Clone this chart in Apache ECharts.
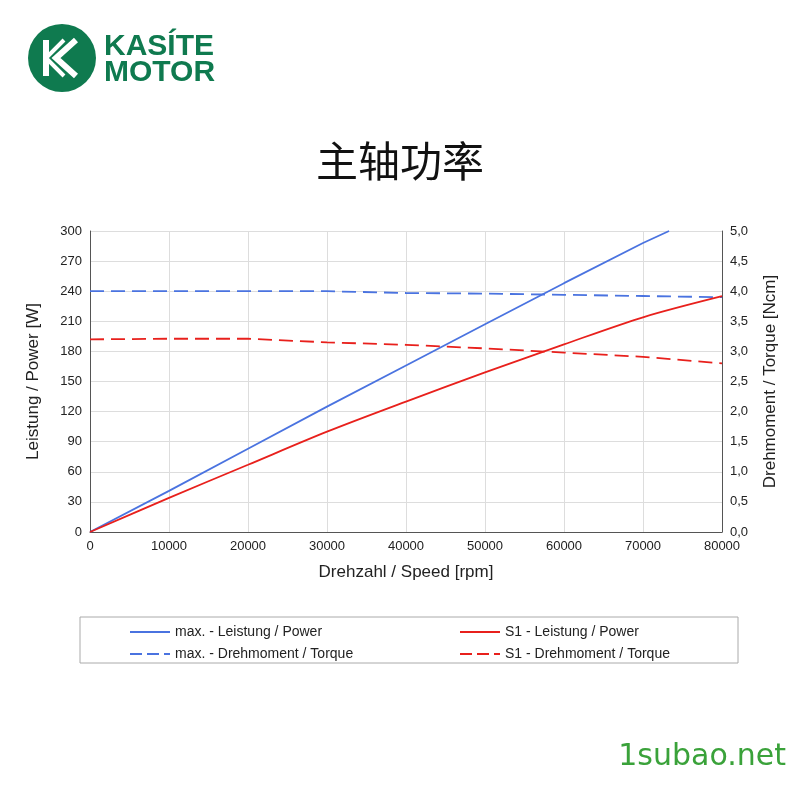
<!DOCTYPE html>
<html><head><meta charset="utf-8">
<script src="https://cdn.jsdelivr.net/npm/echarts@6/dist/echarts.min.js"></script>
<style>html,body{margin:0;background:#fff}#c{width:800px;height:800px}</style>
</head><body><div id="c"></div>
<script>
const speed = [0,10000,20000,30000,40000,50000,60000,70000,80000];
const maxPower = [[0,0],[10000,41],[20000,83],[30000,125],[40000,166],[50000,207],[60000,248],[70000,288],[73300,300]];
const s1Power = [[0,0],[10000,34],[20000,67],[30000,100],[40000,130],[50000,159],[60000,187],[70000,214],[80000,235]];
const maxTorque = [4.0,4.0,4.0,4.0,3.97,3.96,3.94,3.92,3.9];
const s1Torque = [3.2,3.21,3.21,3.15,3.11,3.05,2.98,2.91,2.8];
const leftTicks = 30, rightTicks = 0.5;
const green = '#0f7a4f';
const chart = echarts.init(document.getElementById('c'));
const font = 'Liberation Sans';
const dashIcon = 'path://M0,0H12V2H0ZM17,0H29V2H17ZM34,0H40V2H34Z';
const lineIcon = 'path://M0,0H40V2H0Z';
chart.setOption({
  animation:false,
  textStyle:{fontFamily:font},
  title:{text:'主轴功率',left:'center',top:135,textStyle:{fontSize:42,fontWeight:'normal',color:'#111',fontFamily:'Noto Sans CJK SC'}},
  graphic:[
    {type:'circle',shape:{cx:62,cy:58,r:34},style:{fill:green}},
    {type:'polyline',shape:{points:[[46,40],[46,76]]},style:{stroke:'#fff',lineWidth:6,fill:null}},
    {type:'polyline',shape:{points:[[76,40],[56,58],[76,76]]},style:{stroke:'#fff',lineWidth:6,fill:null}},
    {type:'polyline',shape:{points:[[64,40],[46,58],[64,76]]},style:{stroke:'#fff',lineWidth:4,fill:null}},
    {type:'text',left:104,top:32,style:{text:'KASÍTE',fontSize:30,fontWeight:'bold',fill:green,fontFamily:font}},
    {type:'text',left:104,top:58,style:{text:'MOTOR',fontSize:30,fontWeight:'bold',fill:green,fontFamily:font}},
    {type:'rect',shape:{x:80,y:617,width:658,height:46},style:{fill:'none',stroke:'#aaa',lineWidth:1}},
    {type:'text',right:14,top:742,style:{text:'1subao.net',fontSize:30,fill:'#3aa23a',fontFamily:'DejaVu Sans'}}
  ],
  legend:[
    {data:[{name:'max. - Leistung / Power',icon:lineIcon},{name:'max. - Drehmoment / Torque',icon:dashIcon}],orient:'vertical',left:125,top:620,itemWidth:40,itemHeight:2,itemGap:8,textStyle:{fontSize:14,color:'#222'}},
    {data:[{name:'S1 - Leistung / Power',icon:lineIcon},{name:'S1 - Drehmoment / Torque',icon:dashIcon}],orient:'vertical',left:455,top:620,itemWidth:40,itemHeight:2,itemGap:8,textStyle:{fontSize:14,color:'#222'}}
  ],
  grid:{left:90,right:78,top:231,bottom:268},
  xAxis:{type:'value',min:0,max:80000,interval:10000,name:'Drehzahl / Speed [rpm]',nameLocation:'middle',nameGap:32,nameTextStyle:{fontSize:17,color:'#222'},
    axisLine:{lineStyle:{color:'#555'}},axisTick:{show:false},axisLabel:{color:'#222',fontSize:13,formatter:v=>String(v)},splitLine:{lineStyle:{color:'#ddd'}}},
  yAxis:[
    {type:'value',min:0,max:300,interval:leftTicks,name:'Leistung / Power [W]',nameLocation:'middle',nameGap:48,nameTextStyle:{fontSize:17,color:'#222'},
     axisLine:{show:true,lineStyle:{color:'#555'}},axisTick:{show:false},axisLabel:{color:'#222',fontSize:13},splitLine:{lineStyle:{color:'#ddd'}}},
    {type:'value',min:0,max:5,interval:rightTicks,name:'Drehmoment / Torque [Ncm]',nameLocation:'middle',nameGap:40,nameTextStyle:{fontSize:17,color:'#222'},
     axisLine:{show:true,lineStyle:{color:'#555'}},axisTick:{show:false},splitLine:{show:false},
     axisLabel:{color:'#222',fontSize:13,formatter:v=>v.toFixed(1).replace('.',',')}}
  ],
  series:[
    {name:'max. - Leistung / Power',type:'line',data:maxPower,showSymbol:false,lineStyle:{color:'#4a73e0',width:1.8},itemStyle:{color:'#4a73e0'}},
    {name:'max. - Drehmoment / Torque',type:'line',yAxisIndex:1,data:speed.map((s,i)=>[s,maxTorque[i]]),showSymbol:false,lineStyle:{color:'#4a73e0',width:1.8,type:[14,7]},itemStyle:{color:'#4a73e0'}},
    {name:'S1 - Leistung / Power',type:'line',data:s1Power,smooth:0.3,showSymbol:false,lineStyle:{color:'#e8201c',width:1.8},itemStyle:{color:'#e8201c'}},
    {name:'S1 - Drehmoment / Torque',type:'line',yAxisIndex:1,data:speed.map((s,i)=>[s,s1Torque[i]]),showSymbol:false,lineStyle:{color:'#e8201c',width:1.8,type:[14,7]},itemStyle:{color:'#e8201c'}}
  ]
});
</script></body></html>
